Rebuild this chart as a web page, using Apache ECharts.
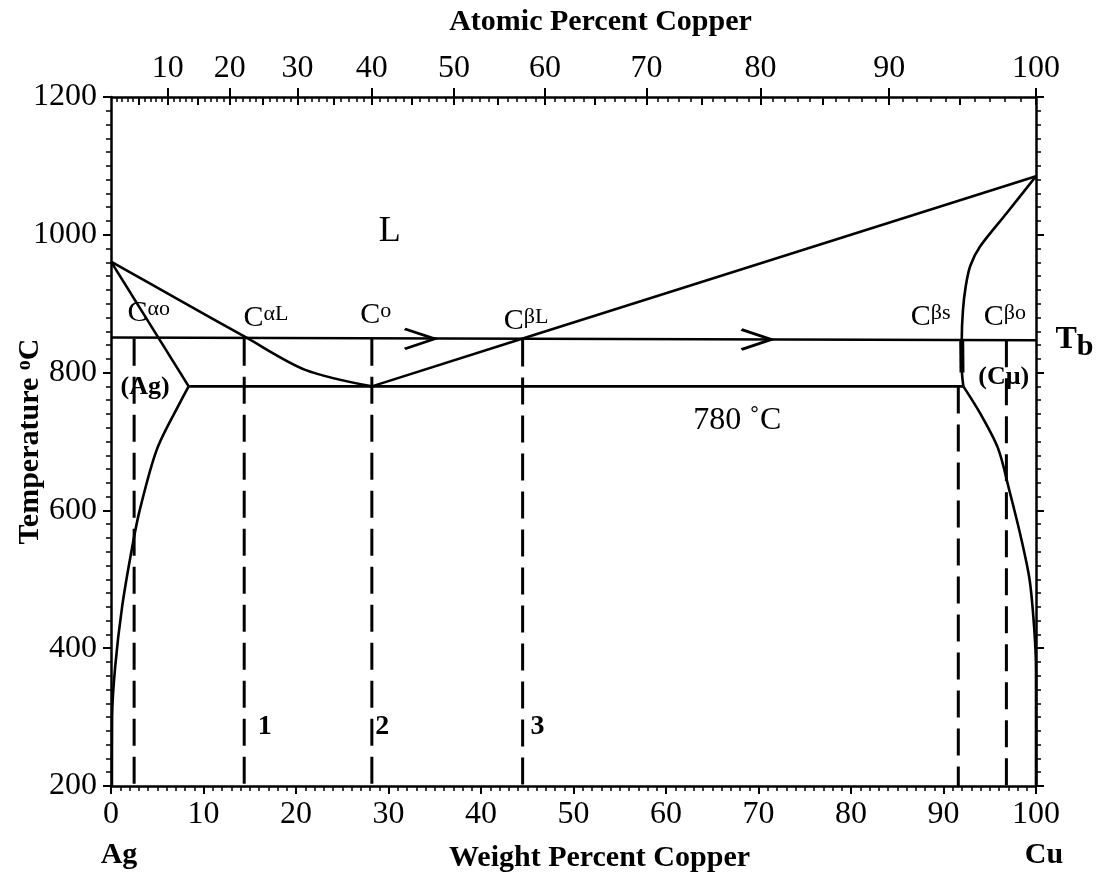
<!DOCTYPE html>
<html><head><meta charset="utf-8">
<script src="https://cdn.jsdelivr.net/npm/echarts@6/dist/echarts.min.js"></script>
<style>html,body{margin:0;padding:0;background:#fff}#c{width:1100px;height:880px}</style>
</head><body><div id="c"></div>
<script>
const FONT = '"Liberation Serif","Times New Roman",serif';

// ---- data (weight % Cu, temperature °C) ----
const liquidusAg = [[0,961],[7.3,906],[14.6,851],[21.0,804],[28.2,780]];
const solidusAg  = [[0,961],[8.4,780]];
const solvusAg   = [[8.4,780],[7.6,760],[5.0,690],[3.1,600],[2.2,540],[1.2,460],[0.45,373],[0.12,300],[0.1,200]];
const liquidusCu = [[28.2,780],[44.6,850],[100,1085]];
const solidusCu  = [[100,1085],[96.8,1031],[93.95,983],[92.9,955],[92.4,925],[92.1,890],[91.97,847],[92.0,800],[92.15,780]];
const solvusCu   = [[92.15,780],[94.0,740],[95.9,690],[97.1,630],[98.3,565],[99.3,500],[99.8,430],[100,368],[100,200]];
const eutectic   = [[8.4,780],[92.15,780]];
const tbLine     = [[0,851],[100,847]];

const dashWt  = [2.5, 14.4, 28.2, 44.5, 91.6, 96.8];
const dashTop = [849, 849, 849, 848, 780, 847];
const dashBottom = 200;

const arrowWt = [35.0, 71.4];
const arrowT  = [849, 848];

// tick labels
const atomicTicks = [10,20,30,40,50,60,70,80,90,100];
const endLabels = ['Ag','Cu'];

// annotations: anchor (left edge, vertical centre) in data units
const annWt   = [28.9, 1.73, 14.27, 26.9, 42.4, 86.4, 94.3, 100, 0.97, 93.7, 62.9, 15.8, 28.5, 45.3];
const annT    = [1004, 886, 879, 883, 875, 881, 881, 843, 779, 793, 731, 286, 286, 286];
const annText = ['{big|L}','{c|C}{s|αo}','{c|C}{s|αL}','{c|C}{s|o}','{c|C}{s|βL}','{c|C}{s|βs}','{c|C}{s|βo}',
                 '{tb|T}{tbs|b}','{ph|(Ag)}','{ph|(Cμ)}','{deg|780 ˚C}','{num|1}','{num|2}','{num|3}'];

// atomic% -> weight% axis transform (atomic masses Cu 63.546, Ag 107.868)
const atToWt = a => 100*a*63.546/(a*63.546 + (100-a)*107.868);
const wtToAt = w => 100*(w/63.546)/((w/63.546) + ((100-w)/107.868));
const atomicWt = atomicTicks.map(atToWt);
const atomicMid = [];
const atomicMinor = [];
for (let a = 1; a < 100; a++) {
  if (a % 10 === 0) continue;
  if (a % 5 === 0) atomicMid.push(atToWt(a)); else atomicMinor.push(atToWt(a));
}

const black = '#000';
const lineBase = {type:'line', showSymbol:false, symbol:'none', clip:false, silent:true,
  lineStyle:{color:black, width:2.6}, xAxisIndex:0, yAxisIndex:0, z:3};
const curve = {smooth:0.3};
const series = [];
series.push(Object.assign({}, lineBase, curve, {data:liquidusAg}));
series.push(Object.assign({}, lineBase, {data:solidusAg}));
series.push(Object.assign({}, lineBase, curve, {data:solvusAg}));
series.push(Object.assign({}, lineBase, {data:liquidusCu}));
series.push(Object.assign({}, lineBase, curve, {data:solidusCu}));
series.push(Object.assign({}, lineBase, {data:solidusCu.slice(6,8), lineStyle:{color:black,width:5}}));
series.push(Object.assign({}, lineBase, curve, {data:solvusCu}));
series.push(Object.assign({}, lineBase, {data:eutectic}));
series.push(Object.assign({}, lineBase, {data:tbLine}));
dashWt.forEach((x,i) => {
  series.push(Object.assign({}, lineBase, {data:[[x,dashTop[i]],[x,dashBottom]],
    lineStyle:{color:black, width:3, type:[27,11]}}));
});
series.push({type:'scatter', xAxisIndex:0, yAxisIndex:0, silent:true, z:4,
  symbol:'path://M0,0L30,10L0,20', symbolSize:[30,20], symbolOffset:[-15,0],
  itemStyle:{color:'rgba(0,0,0,0)', borderColor:black, borderWidth:3.2, opacity:1},
  data: arrowWt.map((x,i)=>[x, arrowT[i]])});
series.push({type:'scatter', xAxisIndex:0, yAxisIndex:0, silent:true, z:5, clip:false,
  symbolSize:1, itemStyle:{color:'rgba(0,0,0,0)', opacity:1},
  data: annWt.map((x,i)=>({value:[x, annT[i]], label:{distance: i===7 ? 19 : 0}})),
  label:{show:true, position:'right', distance:0, color:black, opacity:1,
    formatter: p => annText[p.dataIndex],
    rich:{
      big:{fontSize:36, fontFamily:FONT, color:black},
      c:{fontSize:30, fontFamily:FONT, color:black},
      s:{fontSize:22, fontFamily:FONT, color:black, verticalAlign:'top'},
      tb:{fontSize:32, fontFamily:FONT, fontWeight:'bold', color:black, padding:[0,0,6,0]},
      tbs:{fontSize:30, fontFamily:FONT, fontWeight:'bold', color:black, verticalAlign:'bottom'},
      ph:{fontSize:26, fontFamily:FONT, fontWeight:'bold', color:black},
      deg:{fontSize:32, fontFamily:FONT, color:black},
      num:{fontSize:28, fontFamily:FONT, fontWeight:'bold', color:black}
    }}
});

const axLine = {show:true, onZero:false, lineStyle:{color:black, width:2.5}};
const option = {
  animation:false,
  backgroundColor:'#fff',
  grid:{left:111, right:64, top:97, bottom:94, containLabel:false, outerBoundsMode:'none'},
  xAxis:[
    {type:'value', position:'bottom', min:0, max:100, interval:10,
     axisLine:axLine, splitLine:{show:false},
     axisTick:{show:true, length:8, lineStyle:{color:black, width:2}},
     minorTick:{show:true, splitNumber:10, length:5, lineStyle:{color:black, width:1.5}},
     axisLabel:{margin:9, color:black,
       formatter: v => v===0 ? '{n|0}\n{e|'+endLabels[0]+'}' : (v===100 ? '{n|100}\n{e|'+endLabels[1]+'}' : '{n|'+v+'}'),
       rich:{n:{fontSize:32, fontFamily:FONT, color:black, lineHeight:40},
             e:{fontSize:30, fontFamily:FONT, fontWeight:'bold', color:black, lineHeight:40, padding:[0,0,0,16]}}},
     name:'Weight Percent Copper', nameLocation:'middle', nameGap:57, nameMoveOverlap:false,
     nameTextStyle:{fontSize:30, fontFamily:FONT, fontWeight:'bold', color:black, padding:[0,0,0,52]}},
    {type:'value', position:'top', min:0, max:100,
     axisLine:axLine, splitLine:{show:false},
     axisTick:{show:true, customValues:atomicWt, length:9, lineStyle:{color:black, width:2}},
     axisLabel:{show:true, customValues:atomicWt, margin:12, fontSize:32, fontFamily:FONT, color:black,
       formatter: v => String(Math.round(wtToAt(v)))},
     name:'Atomic Percent Copper', nameLocation:'middle', nameGap:60, nameMoveOverlap:false,
     nameTextStyle:{fontSize:30, fontFamily:FONT, fontWeight:'bold', color:black, padding:[0,0,0,54]}},
    {type:'value', position:'top', min:0, max:100, axisLine:{show:false}, splitLine:{show:false},
     axisTick:{show:true, inside:true, customValues:atomicWt.concat(atomicMid), length:8, lineStyle:{color:black, width:2}},
     axisLabel:{show:false}},
    {type:'value', position:'top', min:0, max:100, axisLine:{show:false}, splitLine:{show:false},
     axisTick:{show:true, inside:true, customValues:atomicMinor, length:5, lineStyle:{color:black, width:1.5}},
     axisLabel:{show:false}}
  ],
  yAxis:[
    {type:'value', position:'left', min:200, max:1200, interval:200,
     axisLine:axLine, splitLine:{show:false},
     axisTick:{show:true, length:8, lineStyle:{color:black, width:2}},
     minorTick:{show:true, splitNumber:10, length:5, lineStyle:{color:black, width:1.5}},
     axisLabel:{margin:14, fontSize:32, fontFamily:FONT, color:black, formatter: v => String(v)},
     name:'Temperature {sup|o}C', nameLocation:'middle', nameGap:66, nameRotate:90, nameMoveOverlap:false,
     nameTextStyle:{fontSize:30, fontFamily:FONT, fontWeight:'bold', color:black,
       rich:{sup:{fontSize:20, fontFamily:FONT, fontWeight:'bold', color:black, verticalAlign:'top'}}}},
    {type:'value', position:'right', min:200, max:1200, interval:200,
     axisLine:axLine, splitLine:{show:false},
     axisTick:{show:true, length:8, lineStyle:{color:black, width:2}},
     minorTick:{show:true, splitNumber:10, length:5, lineStyle:{color:black, width:1.5}},
     axisLabel:{show:false}}
  ],
  series: series
};
const chart = echarts.init(document.getElementById('c'), null, {renderer:'canvas'});
chart.setOption(option);
</script>
</body></html>
